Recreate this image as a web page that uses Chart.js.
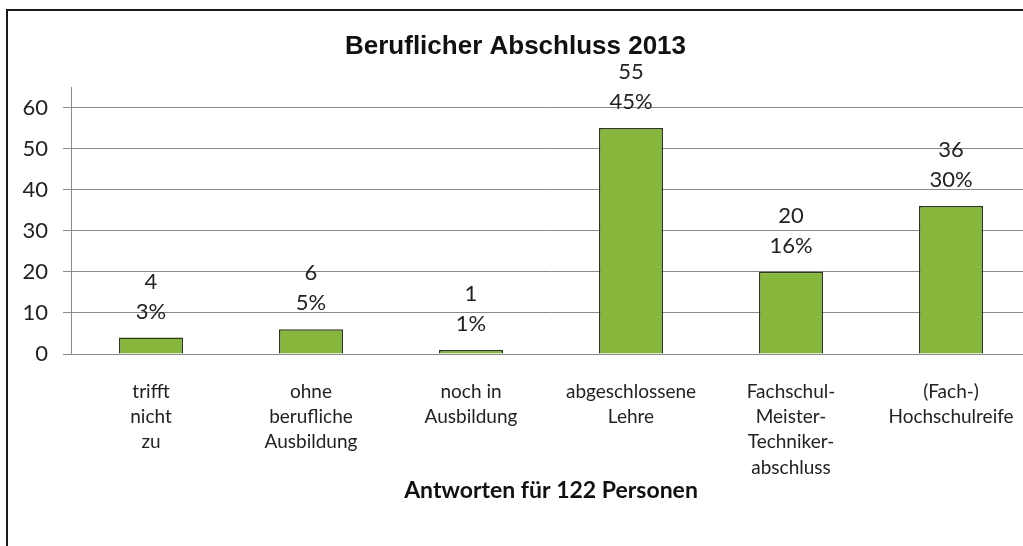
<!DOCTYPE html>
<html>
<head>
<meta charset="utf-8">
<script src="https://cdn.jsdelivr.net/npm/chart.js@4"></script>
<style>
  html, body { margin: 0; padding: 0; background: #fff; overflow: hidden; }
  #frame { position: absolute; left: 6px; top: 9px; width: 1100px; height: 600px; border: 2px solid #1a1a1a; }
  #wrap { position: absolute; left: 0; top: 0; width: 1040px; height: 546px; }
</style>
</head>
<body>
<div id="frame"></div>
<div id="wrap"><canvas id="chart" width="1040" height="546"></canvas></div>
<script>
const categories = [
  ['trifft', 'nicht', 'zu'],
  ['ohne', 'berufliche', 'Ausbildung'],
  ['noch in', 'Ausbildung'],
  ['abgeschlossene', 'Lehre'],
  ['Fachschul-', 'Meister-', 'Techniker-', 'abschluss'],
  ['(Fach-)', 'Hochschulreife']
]
const counts = [4, 6, 1, 55, 20, 36]
const shares = ['3%', '5%', '1%', '45%', '16%', '30%']
const yTicks = [0, 10, 20, 30, 40, 50, 60]

const bodyFont = 'Lato'

// two-line value labels above each bar: count and share
const valueLabels = {
  id: 'valueLabels',
  afterDatasetsDraw(chart) {
    const ctx = chart.ctx
    const meta = chart.getDatasetMeta(0)
    ctx.save()
    ctx.font = '22px ' + bodyFont
    ctx.fillStyle = '#222'
    ctx.textAlign = 'center'
    ctx.textBaseline = 'middle'
    meta.data.forEach((bar, i) => {
      ctx.fillText(String(counts[i]), bar.x, bar.y - 56)
      ctx.fillText(shares[i], bar.x, bar.y - 26)
    })
    ctx.restore()
  }
}

new Chart(document.getElementById('chart'), {
  type: 'bar',
  data: {
    labels: categories,
    datasets: [{
      data: counts,
      backgroundColor: '#86b73c',
      borderColor: '#2b3a16',
      borderWidth: 1.5,
      barPercentage: 0.8,
      categoryPercentage: 0.5
    }]
  },
  plugins: [valueLabels],
  options: {
    responsive: false,
    animation: false,
    layout: { padding: { left: 0, right: 9, top: 0, bottom: 0 } },
    plugins: {
      legend: { display: false },
      tooltip: { enabled: false },
      title: {
        display: true,
        text: 'Beruflicher Abschluss 2013',
        color: '#111',
        font: { family: 'Liberation Sans', size: 26, weight: 'bold', lineHeight: 1.0 },
        padding: { top: 34, bottom: 27 }
      }
    },
    scales: {
      x: {
        afterFit(scale) { scale.height = 192 },
        grid: { display: false },
        border: { display: true, color: '#8a8a8a' },
        ticks: {
          color: '#222',
          padding: 17,
          maxRotation: 0,
          autoSkip: false,
          font: { family: bodyFont, size: 19, lineHeight: 1.33 }
        },
        title: {
          display: true,
          text: 'Antworten für 122 Personen',
          color: '#111',
          font: { family: bodyFont, size: 23, weight: 'bold', lineHeight: 1.2 },
          padding: { top: 0, bottom: 42 }
        }
      },
      y: {
        min: 0,
        max: 65,
        afterFit(scale) { scale.width = 71 },
        afterBuildTicks(scale) { scale.ticks = yTicks.map(v => ({ value: v })) },
        grid: { color: '#8a8a8a', tickLength: 8, lineWidth: 1 },
        border: { display: true, color: '#8a8a8a' },
        ticks: {
          color: '#222',
          padding: 15,
          font: { family: bodyFont, size: 22 }
        }
      }
    }
  }
})
</script>
</body>
</html>
